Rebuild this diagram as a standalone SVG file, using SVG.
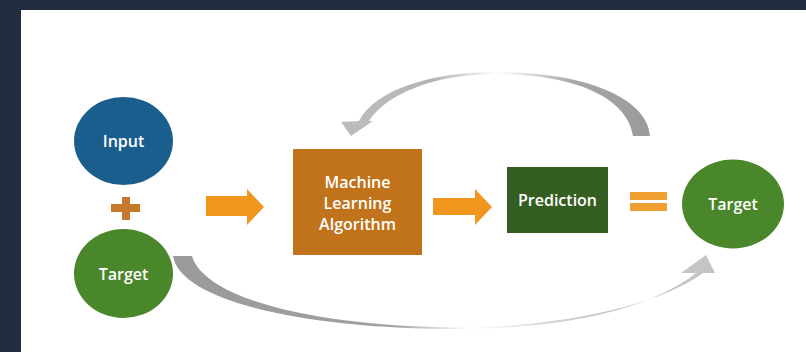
<svg xmlns="http://www.w3.org/2000/svg" width="806" height="352" viewBox="0 0 806 352">
  <defs>
    <linearGradient id="gTop" gradientUnits="userSpaceOnUse" x1="340" y1="0" x2="650" y2="0">
      <stop offset="0" stop-color="#bdbdbd"/>
      <stop offset="0.3" stop-color="#b4b4b4"/>
      <stop offset="0.51" stop-color="#ffffff"/>
      <stop offset="0.75" stop-color="#a8a8a8"/>
      <stop offset="1" stop-color="#9a9a9a"/>
    </linearGradient>
    <linearGradient id="gBot" gradientUnits="userSpaceOnUse" x1="173" y1="0" x2="714" y2="0">
      <stop offset="0" stop-color="#9a9a9a"/>
      <stop offset="0.4" stop-color="#a0a0a0"/>
      <stop offset="0.55" stop-color="#ffffff"/>
      <stop offset="0.75" stop-color="#cacaca"/>
      <stop offset="1" stop-color="#c4c4c4"/>
    </linearGradient>
    <style>
      .lbl { font-family: "Open Sans", "Liberation Sans", sans-serif; font-size: 16px; font-weight: 600; fill: #ffffff; text-anchor: middle; }
      .orange { fill: #f0961e; }
    </style>
  </defs>
  <rect x="0" y="0" width="806" height="352" fill="#222c3e"/>
  <rect x="21" y="10" width="785" height="342" fill="#ffffff"/>

  <g id="connectors">
    <path id="top-arc" fill="url(#gTop)" d="M 650 136 C 648 100, 590 72, 497 72 C 430 72, 375 90, 359 121 L 341 122 L 351 136 L 373 121 L 369 121 C 385 96, 430 74, 497 74 C 575 74, 628 98, 633 136 Z"/>
    <path id="bottom-arc" fill="url(#gBot)" d="M 173 256 C 180 300, 300 329, 460 329 C 560 329, 650 310, 696 273 L 681 273 L 706 255 L 715 273 L 703 273 C 660 305, 560 327, 460 327.5 C 320 327, 205 300, 192 256 Z"/>
    <polygon id="arrow1" class="orange" points="206,196 247,196 247,189 264,207 247,225 247,216 206,216"/>
    <polygon id="arrow2" class="orange" points="433,198 475,198 475,189 492,207 475,225 475,215 433,215"/>
  </g>

  <g id="input">
    <ellipse cx="123.5" cy="141" rx="49.5" ry="44" fill="#1a5e8e"/>
    <text class="lbl" x="123.5" y="147">Input</text>
  </g>
  <g id="plus">
    <rect x="111" y="204" width="29" height="8" fill="#c47a2a"/>
    <rect x="122" y="197" width="8" height="23" fill="#c47a2a"/>
  </g>
  <g id="target-left">
    <ellipse cx="123.5" cy="273.5" rx="49.5" ry="44.5" fill="#4a862a"/>
    <text class="lbl" x="123.5" y="280">Target</text>
  </g>
  <g id="ml-algorithm">
    <rect x="293" y="149" width="129" height="106" fill="#c0731a"/>
    <text class="lbl" x="357.5" y="188">Machine</text>
    <text class="lbl" x="357.5" y="209">Learning</text>
    <text class="lbl" x="357.5" y="230">Algorithm</text>
  </g>
  <g id="prediction">
    <rect x="507" y="167" width="101" height="66" fill="#355e23"/>
    <text class="lbl" x="557.5" y="206">Prediction</text>
  </g>
  <g id="equals">
    <rect x="630" y="192" width="37" height="8" fill="#f0a030"/>
    <rect x="630" y="203" width="37" height="8" fill="#f0a030"/>
  </g>
  <g id="target-right">
    <ellipse cx="733" cy="204" rx="51" ry="44.5" fill="#4a862a"/>
    <text class="lbl" x="733" y="210">Target</text>
  </g>
</svg>
